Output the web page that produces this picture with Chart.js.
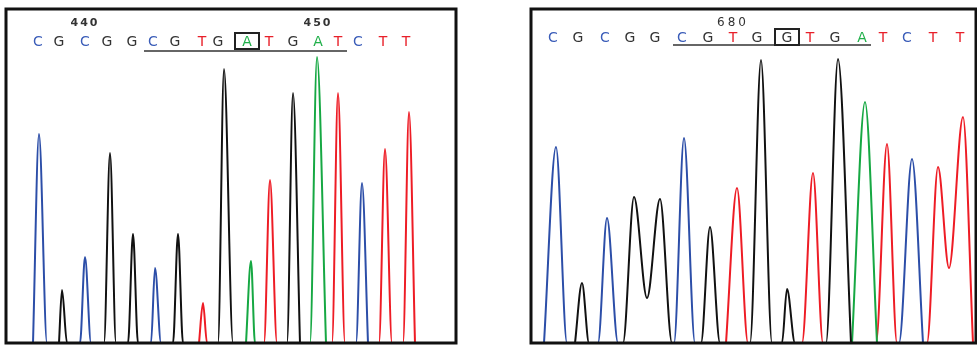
<!DOCTYPE html>
<html>
<head>
<meta charset="utf-8">
<script src="https://cdn.jsdelivr.net/npm/chart.js@4.4.1/dist/chart.umd.min.js"></script>
<style>
  html, body { margin: 0; padding: 0; background: #fff; }
  #wrap { position: relative; width: 977px; height: 346px; overflow: hidden; }
  canvas { position: absolute; top: 0; }
  #left  { left: 0; }
  #right { left: 524px; }
</style>
</head>
<body>
<div id="wrap">
  <canvas id="left" width="460" height="346"></canvas>
  <canvas id="right" width="453" height="346"></canvas>
</div>
<script>
// ── Base calls (scan position of each called base) ───────────────────────────
const leftBases   = ["C","G","C","G","G","C","G","T","G","A","T","G","A","T","C","T","T"];
const leftBasePos = [32, 53, 79, 101, 126, 147, 169, 196, 212, 241, 263, 287, 312, 332, 352, 377, 400];
const leftNumbers  = ["440", "450"];
const leftNumberAt = [2, 12];

const rightBases   = ["C","G","C","G","G","C","G","T","G","G","T","G","A","T","C","T","T"];
const rightBasePos = [22, 47, 74, 99, 124, 151, 177, 202, 226, 256, 279, 304, 331, 352, 376, 402, 429];
const rightNumbers  = ["680"];
const rightNumberAt = [7];

// ── Trace peaks: [scan, intensity] ───────────────────────────────────────────
const leftA = [[240,0],[245,82],[249,0],[304,0],[311,286],[320,0]];
const leftC = [[27,0],[33,209],[41,0],[74,0],[79,86],[85,0],[145,0],[149,75],[155,0],[350,0],[356,160],[362,0]];
const leftG = [[53,0],[56,53],[61,0],[98,0],[104,190],[110,0],[122,0],[127,109],[132,0],[167,0],[172,109],[177,0],
               [212,0],[218,274],[227,0],[281,0],[287,250],[294,0]];
const leftT = [[193,0],[197,40],[201,0],[258,0],[264,163],[271,0],[326,0],[332,250],[339,0],
               [373,0],[379,194],[386,0],[397,0],[403,231],[409,0]];

const rightA = [[321,0],[334,241],[346,0]];
const rightC = [[13,0],[25,196],[36,0],[67,0],[76,125],[87,0],[143,0],[153,205],[164,0],[368,0],[381,184],[392,0]];
const rightG = [[44,0],[51,60],[58,0],[92,0],[103,146],[116,45],[129,144],[141,0],[170,0],[179,116],[189,0],
                [219,0],[230,283],[241,0],[251,0],[256,54],[264,0],[295,0],[307,284],[320,0]];
const rightT = [[195,0],[206,155],[217,0],[271,0],[282,170],[292,0],[345,0],[356,199],[366,0],
                [396,0],[407,176],[418,75],[432,226],[442,0]];

// ── Styles ───────────────────────────────────────────────────────────────────
const TRACE = { A: "#16a843", C: "#2c4ea8", G: "#111111", T: "#ee1c25" };
const LETTER = { A: "#20b04a", C: "#3a5cb8", G: "#333333", T: "#e8202a" };

// frame around the plot area
const framePlugin = {
  id: "frame",
  afterDatasetsDraw(chart) {
    const { ctx, chartArea: a } = chart;
    ctx.save();
    ctx.strokeStyle = "#111";
    ctx.lineWidth = 3;
    ctx.strokeRect(a.left, a.top, a.right - a.left, a.bottom - a.top);
    ctx.restore();
  },
};

// base letters, position numbers, underline and boxed base
const basecallPlugin = {
  id: "basecalls",
  afterDraw(chart, args, o) {
    const { ctx, chartArea: a, scales: { x } } = chart;
    const px = (i) => x.getPixelForValue(o.pos[i]);
    ctx.save();
    ctx.textAlign = "center";
    ctx.textBaseline = "middle";

    ctx.font = o.numberFont;
    ctx.fillStyle = "#333";
    if ("letterSpacing" in ctx) ctx.letterSpacing = o.numberSpacing;
    o.numbers.forEach((n, k) => ctx.fillText(n, px(o.numberAt[k]), a.top + o.numberY));
    if ("letterSpacing" in ctx) ctx.letterSpacing = "0px";

    ctx.font = "14px 'DejaVu Sans'";
    o.bases.forEach((b, i) => {
      ctx.fillStyle = LETTER[b];
      ctx.fillText(b, px(i), a.top + o.letterY);
    });

    ctx.strokeStyle = "#333";
    ctx.lineWidth = 1.5;
    ctx.beginPath();
    ctx.moveTo(px(o.underline[0]) - 9, a.top + o.underlineY);
    ctx.lineTo(px(o.underline[1]) + 9, a.top + o.underlineY);
    ctx.stroke();

    ctx.strokeStyle = "#222";
    ctx.lineWidth = 2;
    ctx.strokeRect(px(o.boxed) - 12, a.top + o.letterY - 9, 24, 16);
    ctx.restore();
  },
};

function traceSet(points, base) {
  return {
    label: base,
    data: points.map((p) => ({ x: p[0], y: p[1] })),
    borderColor: TRACE[base],
    borderWidth: 2,
    pointRadius: 0,
    cubicInterpolationMode: "monotone",
    fill: false,
  };
}

function makeChart(id, traces, xMax, pad, calls) {
  return new Chart(document.getElementById(id), {
    type: "line",
    data: {
      datasets: [
        traceSet(traces.C, "C"),
        traceSet(traces.G, "G"),
        traceSet(traces.A, "A"),
        traceSet(traces.T, "T"),
      ],
    },
    options: {
      responsive: false,
      animation: false,
      devicePixelRatio: 1,
      layout: { padding: pad },
      plugins: { legend: { display: false }, tooltip: { enabled: false }, basecalls: calls },
      scales: {
        x: { type: "linear", min: 0, max: xMax, display: false },
        y: { min: 0, max: 334, display: false },
      },
    },
    plugins: [framePlugin, basecallPlugin],
  });
}

makeChart("left", { A: leftA, C: leftC, G: leftG, T: leftT }, 450,
  { left: 6, right: 4, top: 9, bottom: 3 },
  { bases: leftBases, pos: leftBasePos, numbers: leftNumbers, numberAt: leftNumberAt,
    numberFont: "bold 11px 'DejaVu Sans'", numberSpacing: "2px",
    underline: [5, 13], boxed: 9, letterY: 33, numberY: 14, underlineY: 42 });

makeChart("right", { A: rightA, C: rightC, G: rightG, T: rightT }, 445,
  { left: 7, right: 1, top: 9, bottom: 3 },
  { bases: rightBases, pos: rightBasePos, numbers: rightNumbers, numberAt: rightNumberAt,
    numberFont: "12px 'DejaVu Sans'", numberSpacing: "3px",
    underline: [5, 12], boxed: 9, letterY: 29, numberY: 14, underlineY: 36 });
</script>
</body>
</html>
